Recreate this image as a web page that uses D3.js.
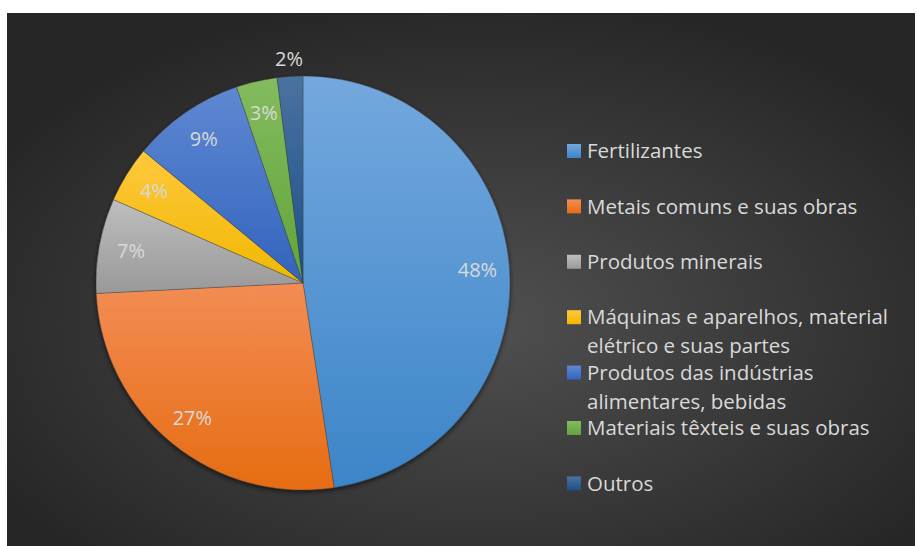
<!DOCTYPE html>
<html>
<head>
<meta charset="utf-8">
<script src="https://cdn.jsdelivr.net/npm/d3@7"></script>
<style>
  html, body { margin: 0; padding: 0; background: #ffffff; }
  svg text { font-family: "Open Sans", Lato, sans-serif; }
</style>
</head>
<body>
<svg id="chart" width="917" height="546"></svg>
<script>
// chart data
var categories = [
  "Fertilizantes",
  "Metais comuns e suas obras",
  "Produtos minerais",
  "Máquinas e aparelhos, material elétrico e suas partes",
  "Produtos das indústrias alimentares, bebidas",
  "Materiais têxteis e suas obras",
  "Outros"
];
var shares = [47.6, 26.6, 7.4, 4.4, 8.8, 3.2, 2.0];
var colorsTop    = ['#74a8de', '#f38d54', '#bebebe', '#ffc83d', '#5f88d2', '#83bb5e', '#4a72a0'];
var colorsBottom = ['#3c85c8', '#e66c12', '#999999', '#f0b800', '#3263bd', '#62a43a', '#1c5088'];

var svg = d3.select('#chart');
var width = 917, height = 546;
var text_color = '#d9d9d9';

var defs = svg.append('defs');

// background gradient, lighter in the middle
var bg = defs.append('radialGradient')
    .attr('id', 'bg')
    .attr('cx', '0.52').attr('cy', '0.58').attr('r', '0.62');
bg.append('stop').attr('offset', '0%').attr('stop-color', '#505050');
bg.append('stop').attr('offset', '100%').attr('stop-color', '#262626');

svg.append('rect')
    .attr('x', 7).attr('y', 13)
    .attr('width', width - 9).attr('height', height - 13)
    .attr('fill', 'url(#bg)');

// slice gradients, top to bottom in each slice's own box
categories.forEach(function(c, i) {
  var g = defs.append('linearGradient')
      .attr('id', 'slice' + i)
      .attr('x1', 0).attr('y1', 0).attr('x2', 0).attr('y2', 1);
  g.append('stop').attr('offset', '0%').attr('stop-color', colorsTop[i]);
  g.append('stop').attr('offset', '100%').attr('stop-color', colorsBottom[i]);
});

var shadow = defs.append('filter').attr('id', 'shadow')
    .attr('x', '-10%').attr('y', '-10%').attr('width', '120%').attr('height', '120%');
shadow.append('feDropShadow')
    .attr('dx', 0).attr('dy', 2).attr('stdDeviation', 2.5)
    .attr('flood-color', '#000').attr('flood-opacity', 0.6);

var cx = 303, cy = 283, radius = 207;

var pie = d3.pie().sort(null).value(function(d) { return d; });
var arcs = pie(shares);
var arc = d3.arc().innerRadius(0).outerRadius(radius);
var labelArc = d3.arc().innerRadius(radius * 0.845).outerRadius(radius * 0.845);
var outerArc = d3.arc().innerRadius(radius + 17).outerRadius(radius + 17);

var total = d3.sum(shares);

var pieGroup = svg.append('g')
    .attr('transform', 'translate(' + cx + ',' + cy + ')');

pieGroup.append('g')
    .attr('filter', 'url(#shadow)')
    .selectAll('path')
    .data(arcs)
    .enter().append('path')
    .attr('d', arc)
    .attr('fill', function(d, i) { return 'url(#slice' + i + ')'; })
    .attr('stroke', 'rgba(60,60,60,0.6)')
    .attr('stroke-width', 0.6);

pieGroup.append('g')
    .selectAll('text')
    .data(arcs)
    .enter().append('text')
    .attr('transform', function(d) {
      var small = (d.value / total) < 0.025;
      var p = small ? outerArc.centroid(d) : labelArc.centroid(d);
      return 'translate(' + p + ')';
    })
    .attr('text-anchor', 'middle')
    .attr('dy', '0.35em')
    .attr('fill', text_color)
    .attr('font-size', '20px')
    .text(function(d) { return Math.round(d.value / total * 100) + '%'; });

// legend
var legendX = 567, legendY = 151, legendStep = 55.4, lineStep = 29, wrapWidth = 322;

var legend = svg.append('g');
categories.forEach(function(c, i) {
  var y = legendY + i * legendStep;
  legend.append('rect')
      .attr('x', legendX).attr('y', y - 7)
      .attr('width', 14).attr('height', 14)
      .attr('fill', 'url(#slice' + i + ')');

  var t = legend.append('text')
      .attr('x', legendX + 20).attr('y', y)
      .attr('dy', '0.35em')
      .attr('fill', text_color)
      .attr('font-size', '20.5px');

  // wrap long names on word boundaries
  var words = c.split(' ');
  var line = [];
  var tspan = t.append('tspan').attr('x', legendX + 20);
  words.forEach(function(w) {
    line.push(w);
    tspan.text(line.join(' '));
    if (tspan.node().getComputedTextLength() > wrapWidth && line.length > 1) {
      line.pop();
      tspan.text(line.join(' '));
      line = [w];
      tspan = t.append('tspan')
          .attr('x', legendX + 20)
          .attr('dy', lineStep)
          .text(w);
    }
  });
});
</script>
</body>
</html>
